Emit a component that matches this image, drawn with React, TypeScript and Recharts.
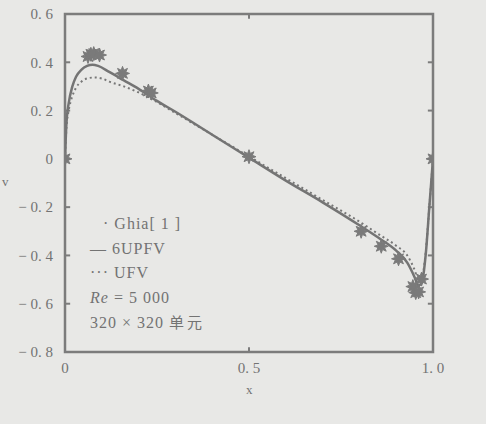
import React from "react";
import {
  ComposedChart,
  Line,
  Scatter,
  XAxis,
  YAxis,
  ReferenceArea,
  ReferenceLine,
} from "recharts";

const ghiaX = [0, 0.0625, 0.0703, 0.0781, 0.0938, 0.1563, 0.2266, 0.2344, 0.5, 0.8047, 0.8594, 0.9063, 0.9453, 0.9531, 0.9609, 0.9688, 1.0];
const ghiaV = [0, 0.424, 0.433, 0.436, 0.43, 0.354, 0.281, 0.273, 0.009, -0.3, -0.362, -0.414, -0.529, -0.554, -0.551, -0.498, 0];

const upfvX = [0, 0.004, 0.01, 0.02, 0.03, 0.045, 0.06, 0.075, 0.09, 0.12, 0.16, 0.2, 0.25, 0.3, 0.4, 0.5, 0.6, 0.7, 0.8, 0.85, 0.9, 0.93, 0.95, 0.96, 0.97, 0.98, 0.99, 1.0];
const upfvV = [0, 0.15, 0.23, 0.3, 0.34, 0.37, 0.385, 0.39, 0.385, 0.36, 0.325, 0.29, 0.24, 0.195, 0.1, 0.005, -0.09, -0.18, -0.275, -0.325, -0.38, -0.43, -0.49, -0.525, -0.51, -0.4, -0.2, 0];

const ufvX = [0, 0.004, 0.01, 0.02, 0.03, 0.045, 0.06, 0.08, 0.1, 0.12, 0.16, 0.2, 0.25, 0.3, 0.4, 0.5, 0.6, 0.7, 0.8, 0.85, 0.9, 0.93, 0.95, 0.96, 0.97, 0.98, 0.99, 1.0];
const ufvV = [0, 0.13, 0.2, 0.26, 0.295, 0.32, 0.333, 0.337, 0.333, 0.32, 0.3, 0.275, 0.235, 0.19, 0.1, 0.01, -0.08, -0.17, -0.26, -0.31, -0.36, -0.4, -0.46, -0.5, -0.49, -0.39, -0.2, 0];

const xTicks = [0, 0.5, 1.0];
const yTicks = [-0.8, -0.6, -0.4, -0.2, 0, 0.2, 0.4, 0.6];

const ghia = ghiaX.map((x, i) => ({ x, v: ghiaV[i] }));
const upfv = upfvX.map((x, i) => ({ x, v: upfvV[i] }));
const ufv = ufvX.map((x, i) => ({ x, v: ufvV[i] }));

const INK = "#737373";
const FRAME = "#7c7c7c";
const FONT = "'Liberation Serif', 'DejaVu Serif', serif";

// tick length in data units (about 5 px)
const TX = 0.014;
const TY = 0.02;

function fmtY(v: number) {
  if (v === 0) return "0";
  const s = Math.abs(v).toFixed(1).replace(".", ". ");
  return v < 0 ? "\u2212 " + s : s;
}

function fmtX(v: number) {
  if (v === 0) return "0";
  return v.toFixed(1).replace(".", ". ");
}

function Star(props: { cx?: number; cy?: number }) {
  const { cx = 0, cy = 0 } = props;
  const pts: string[] = [];
  for (let i = 0; i < 16; i++) {
    const r = i % 2 === 0 ? 7 : 3.5;
    const a = (Math.PI * i) / 8;
    pts.push(`${cx + r * Math.cos(a)},${cy + r * Math.sin(a)}`);
  }
  return <polygon points={pts.join(" ")} fill="#7a7a7a" stroke="#7a7a7a" strokeWidth={1} />;
}

const tickStyle = { fill: INK, fontSize: 15, fontFamily: FONT };

export default function App() {
  return (
    <div
      style={{
        position: "fixed",
        left: 0,
        top: 0,
        width: 486,
        height: 424,
        background: "#e8e8e6",
      }}
    >
      <ComposedChart
        width={486}
        height={424}
        margin={{ top: 14, right: 53, bottom: 0, left: 0 }}
      >
        <XAxis
          dataKey="x"
          type="number"
          domain={[0, 1]}
          ticks={xTicks}
          tickFormatter={fmtX}
          height={72}
          tick={tickStyle}
          tickLine={false}
          tickMargin={4}
          axisLine={false}
          allowDataOverflow
        />
        <YAxis
          dataKey="v"
          type="number"
          domain={[-0.8, 0.6]}
          ticks={yTicks}
          tickFormatter={fmtY}
          width={65}
          tick={tickStyle}
          tickLine={false}
          tickMargin={6}
          axisLine={false}
          allowDataOverflow
        />
        <ReferenceArea
          x1={0}
          x2={1}
          y1={-0.8}
          y2={0.6}
          fill="none"
          stroke={FRAME}
          strokeWidth={2.5}
          ifOverflow="visible"
        />
        {yTicks.map((t) => (
          <ReferenceLine
            key={"l" + t}
            segment={[{ x: 0, y: t }, { x: TX, y: t }]}
            stroke={FRAME}
            strokeWidth={2}
          />
        ))}
        {yTicks.map((t) => (
          <ReferenceLine
            key={"r" + t}
            segment={[{ x: 1 - TX, y: t }, { x: 1, y: t }]}
            stroke={FRAME}
            strokeWidth={2}
          />
        ))}
        {xTicks.map((t) => (
          <ReferenceLine
            key={"b" + t}
            segment={[{ x: t, y: -0.8 }, { x: t, y: -0.8 + TY }]}
            stroke={FRAME}
            strokeWidth={2}
          />
        ))}
        {xTicks.map((t) => (
          <ReferenceLine
            key={"t" + t}
            segment={[{ x: t, y: 0.6 - TY }, { x: t, y: 0.6 }]}
            stroke={FRAME}
            strokeWidth={2}
          />
        ))}
        <Line
          data={ufv}
          dataKey="v"
          type="monotone"
          stroke="#777"
          strokeWidth={2}
          strokeDasharray="2 3"
          dot={false}
          isAnimationActive={false}
        />
        <Line
          data={upfv}
          dataKey="v"
          type="monotone"
          stroke="#747474"
          strokeWidth={2.5}
          dot={false}
          isAnimationActive={false}
        />
        <Scatter
          data={ghia}
          dataKey="v"
          shape={<Star />}
          isAnimationActive={false}
        />
      </ComposedChart>
      <div
        style={{
          position: "absolute",
          left: 90,
          top: 212,
          fontFamily: FONT,
          fontSize: 16,
          letterSpacing: 1,
          color: INK,
          lineHeight: "24.5px",
          whiteSpace: "nowrap",
        }}
      >
        <div style={{ paddingLeft: 13 }}>· Ghia[ 1 ]</div>
        <div>— 6UPFV</div>
        <div>··· UFV</div>
        <div>
          <i>Re</i> = 5 000
        </div>
        <div>
          320 × 320{" "}
          <span style={{ fontFamily: "'Noto Sans CJK SC', sans-serif", fontSize: 15, letterSpacing: 3 }}>
            单元
          </span>
        </div>
      </div>
      <div
        style={{
          position: "absolute",
          left: 246,
          top: 382,
          fontFamily: FONT,
          fontSize: 13,
          color: INK,
        }}
      >
        x
      </div>
      <div
        style={{
          position: "absolute",
          left: 2,
          top: 174,
          fontFamily: FONT,
          fontSize: 13,
          color: INK,
        }}
      >
        v
      </div>
    </div>
  );
}
